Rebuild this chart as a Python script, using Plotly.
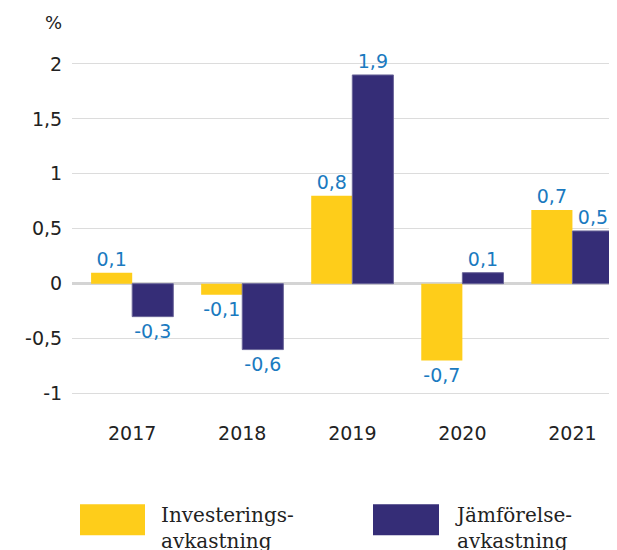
import plotly.graph_objects as go

years = ["2017", "2018", "2019", "2020", "2021"]
invest = [0.1, -0.1, 0.8, -0.7, 0.67]
invest_labels = ["0,1", "-0,1", "0,8", "-0,7", "0,7"]
jamfor = [-0.3, -0.6, 1.9, 0.1, 0.48]
jamfor_labels = ["-0,3", "-0,6", "1,9", "0,1", "0,5"]
yticks = [-1, -0.5, 0, 0.5, 1, 1.5, 2]
yticklabels = ["-1", "-0,5", "0", "0,5", "1", "1,5", "2"]
legend_names = ["Investerings-<br>avkastning", "Jämförelse-<br>avkastning"]

YELLOW = "#fecd1a"
NAVY = "#352d77"
LBL = "#1a7ac0"
TXT = "#222222"
FONT = "DejaVu Sans"

OFF = 8  # page body margin
W, H = 617 - OFF, 550 - OFF
# page coordinates of plot area
P_LEFT, P_RIGHT, P_TOP, P_BOTTOM = 72, 617, 42, 410.5
ml = P_LEFT - OFF
mt = P_TOP - OFF
mr = W - (P_RIGHT - OFF)
mb = H - (P_BOTTOM - OFF)

fig = go.Figure()
fig.add_trace(go.Bar(x=years, y=invest, text=invest_labels, textposition="outside",
                     marker=dict(color=YELLOW, line=dict(width=0)),
                     textfont=dict(color=LBL, size=19, family=FONT), cliponaxis=False,
                     name="Investeringsavkastning", showlegend=False))
fig.add_trace(go.Bar(x=years, y=jamfor, text=jamfor_labels, textposition="outside",
                     marker=dict(color=NAVY, line=dict(width=1, color="#6b6699")),
                     textfont=dict(color=LBL, size=19, family=FONT), cliponaxis=False,
                     name="Jämförelseavkastning", showlegend=False))

plot_h = P_BOTTOM - P_TOP
plot_w = P_RIGHT - P_LEFT

def px(x):
    return (x - P_LEFT) / plot_w

def py(y):
    return (P_BOTTOM - y) / plot_h

fig.update_layout(
    width=W, height=H,
    margin=dict(l=ml, r=mr, t=mt, b=mb, pad=0),
    paper_bgcolor="white", plot_bgcolor="white",
    barmode="group", bargap=0.253, bargroupgap=0,
    font=dict(family=FONT, color=TXT, size=19),
    xaxis=dict(type="category", range=[-0.547, 4.405], showgrid=False, zeroline=False,
               showline=False, ticks="outside", ticklen=6, tickcolor="rgba(0,0,0,0)",
               tickfont=dict(size=19, color=TXT, family=FONT)),
    yaxis=dict(range=[-1.15, 2.2], tickvals=yticks, ticktext=yticklabels,
               showgrid=True, gridcolor="#dcdcdc", gridwidth=1,
               zeroline=True, zerolinecolor="#d4d4d4", zerolinewidth=3,
               ticks="outside", ticklen=5, tickcolor="rgba(0,0,0,0)",
               tickfont=dict(size=19, color=TXT, family=FONT)),
    showlegend=False,
)

fig.add_annotation(text="%", xref="paper", yref="paper", x=px(64), y=py(22),
                   xanchor="right", yanchor="middle", showarrow=False,
                   font=dict(size=18, color=TXT, family=FONT))

# legend
leg = [(80, 145, 159, YELLOW, legend_names[0]), (373, 439, 453, NAVY, legend_names[1])]
for x0, x1, tx, col, name in leg:
    fig.add_shape(type="rect", xref="paper", yref="paper", x0=px(x0), x1=px(x1),
                  y0=py(536), y1=py(505), fillcolor=col, line=dict(width=0), layer="above")
    fig.add_annotation(text=name, xref="paper", yref="paper", x=px(tx), y=py(502),
                       xanchor="left", yanchor="top", align="left", showarrow=False,
                       font=dict(size=20, color=TXT, family="DejaVu Serif"))

fig.write_html("out.html")
